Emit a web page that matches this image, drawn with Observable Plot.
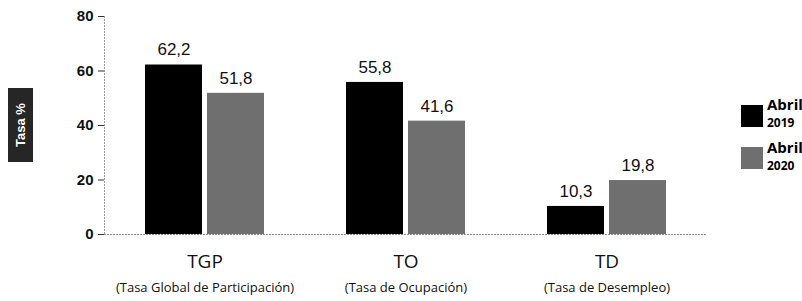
<!DOCTYPE html>
<html><head><meta charset="utf-8">
<script src="https://cdn.jsdelivr.net/npm/d3@7"></script>
<script src="https://cdn.jsdelivr.net/npm/@observablehq/plot@0.6"></script>
<style>
body{margin:0;background:#fff}
#wrap{position:relative;width:802px;height:301px;overflow:hidden;background:#fff}
#ylab{position:absolute;left:8px;top:88px;width:25px;height:74px;background:#262626;color:#fff;
  font:bold 13px "Liberation Sans",Arial,sans-serif;writing-mode:vertical-rl;transform:rotate(180deg);
  display:flex;align-items:center;justify-content:center}
.sw{position:absolute;width:22px;height:22px}
.lt{position:absolute;font-family:"Open Sans",sans-serif;font-weight:bold;color:#000;white-space:nowrap;line-height:1}
.lt .a{font-size:15px;display:block;line-height:15px}
.lt .b{font-size:12px;display:block;line-height:12px;margin-top:5px}
</style></head><body><div id="wrap"></div>
<script>
const categories = ["TGP", "TO", "TD"];
const categoryNames = ["(Tasa Global de Participación)", "(Tasa de Ocupación)", "(Tasa de Desempleo)"];
const years = ["2019", "2020"];
const values2019 = [62.2, 55.8, 10.3];
const values2020 = [51.8, 41.6, 19.8];
const legendMonths = ["Abril", "Abril"];
const yTicks = [0, 20, 40, 60, 80];
const yLabel = "Tasa %";
const colors = ["#000000", "#6f6f6f"];

const data = categories.flatMap((c, i) => [
  {cat: c, year: years[0], value: values2019[i]},
  {cat: c, year: years[1], value: values2020[i]}
]);
const cats = categories.map((c, i) => ({cat: c, name: categoryNames[i]}));
const fmt = v => v.toFixed(1).replace(".", ",");

const chart = Plot.plot({
  width: 802, height: 301,
  marginLeft: 103, marginRight: 95, marginTop: 16, marginBottom: 67,
  fx: {domain: categories, padding: 0, axis: null},
  x: {domain: years, paddingInner: 0.08, paddingOuter: 0.64, axis: null},
  y: {domain: [0, 80], axis: null},
  color: {domain: years, range: colors},
  style: {fontFamily: "'Liberation Sans', Arial, sans-serif", background: "transparent", overflow: "visible"},
  marks: [
    Plot.barY(data, {fx: "cat", x: "year", y: "value", fill: "year"}),
    Plot.ruleY([0], {stroke: "#8c8c8c", strokeDasharray: "2,1"}),
    Plot.frame({anchor: "left", facetAnchor: "left", stroke: "#9a9a9a", strokeDasharray: "1,2"}),
    Plot.axisY({ticks: yTicks, tickSize: 6, tickPadding: 5, fontSize: 15, fontWeight: "bold", label: null, stroke: "#333", fill: "#111"}),
    Plot.text(data, {fx: "cat", x: "year", y: "value", text: d => fmt(d.value), dy: -15, fontSize: 17, fill: "#111"}),
    Plot.text(cats, {fx: "cat", text: "cat", frameAnchor: "bottom", dy: 33, fontSize: 19, fontFamily: "'Open Sans', sans-serif", fill: "#111"}),
    Plot.text(cats, {fx: "cat", text: "name", frameAnchor: "bottom", dy: 57, fontSize: 13, fontFamily: "'Open Sans', sans-serif", fill: "#111"})
  ]
});

const wrap = document.getElementById("wrap");
wrap.appendChild(chart);

const yl = document.createElement("div");
yl.id = "ylab"; yl.textContent = yLabel;
wrap.appendChild(yl);

const legendPos = [{sq: 105, tx: 97}, {sq: 147, tx: 140}];
years.forEach((y, i) => {
  const s = document.createElement("div");
  s.className = "sw";
  s.style.left = "741px"; s.style.top = legendPos[i].sq + "px"; s.style.background = colors[i];
  wrap.appendChild(s);
  const t = document.createElement("div");
  t.className = "lt";
  t.style.left = "767px"; t.style.top = legendPos[i].tx + "px";
  t.innerHTML = `<span class="a">${legendMonths[i]}</span><span class="b">${y}</span>`;
  wrap.appendChild(t);
});
</script></body></html>
